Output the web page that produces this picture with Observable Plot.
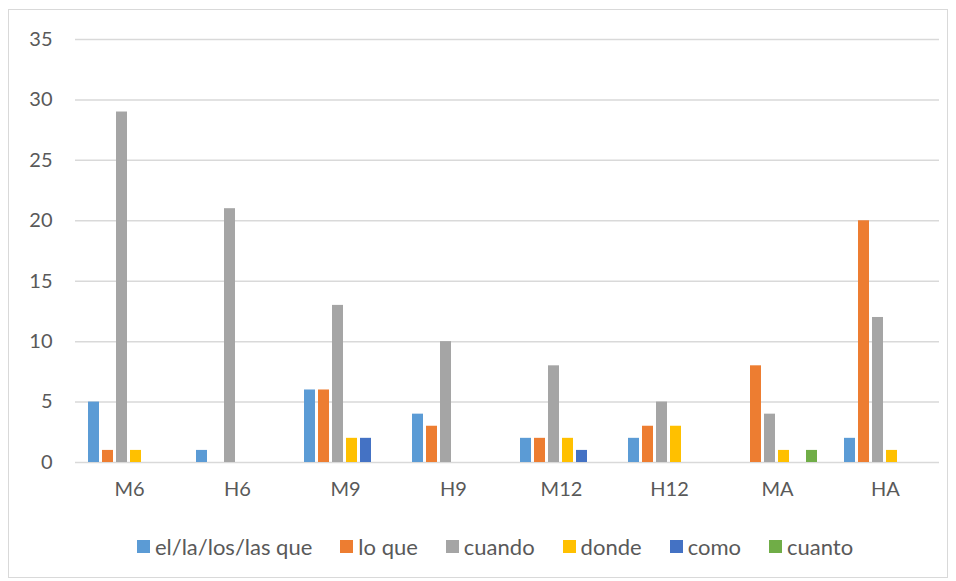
<!DOCTYPE html>
<html><head><meta charset="utf-8">
<script src="https://cdn.jsdelivr.net/npm/d3@7"></script>
<script src="https://cdn.jsdelivr.net/npm/@observablehq/plot@0.6"></script>
<style>
body{margin:0;background:#fff;font-family:Lato,sans-serif;}
#frame{position:absolute;left:8px;top:9px;width:940px;height:569px;border:1px solid #d9d9d9;box-sizing:border-box}
#chart{position:absolute;left:0;top:0}
#legend{position:absolute;top:533px;left:0;width:990px;display:flex;justify-content:center;align-items:center;font-size:22px;color:#595959;font-family:Lato,sans-serif}
#legend .item{display:flex;align-items:center;margin:0 14px}
#legend .sw{width:13px;height:13px;margin-right:5px}
</style></head>
<body>
<div id="frame"></div>
<div id="chart"></div>
<div id="legend"></div>
<script>
const groups = ["M6","H6","M9","H9","M12","H12","MA","HA"];
const series = ["el/la/los/las que","lo que","cuando","donde","como","cuanto"];
const colors = ["#5B9BD5","#ED7D31","#A5A5A5","#FFC000","#4472C4","#70AD47"];
const elLaLosLasQue = [5,1,6,4,2,2,0,2];
const loQue =         [1,0,6,3,2,3,8,20];
const cuando =        [29,21,13,10,8,5,4,12];
const donde =         [1,0,2,0,2,3,1,1];
const como =          [0,0,2,0,1,0,0,0];
const cuanto =        [0,0,0,0,0,0,1,0];
const yTicks = [0,5,10,15,20,25,30,35];

const seriesValues = [elLaLosLasQue, loQue, cuando, donde, como, cuanto];
const data = [];
groups.forEach((g, gi) => {
  series.forEach((s, si) => {
    const v = seriesValues[si][gi];
    if (v > 0) data.push({group: g, series: s, value: v});
  });
});

const chart = Plot.plot({
  width: 956, height: 500,
  marginTop: 39, marginBottom: 38, marginLeft: 73, marginRight: 16,
  fx: {domain: groups, padding: 0, label: null, axis: null},
  x: {domain: series, paddingInner: 0.2, paddingOuter: 0.85, axis: null},
  y: {domain: [0, 35], label: null, axis: null},
  color: {domain: series, range: colors},
  style: {fontFamily: "Lato, sans-serif", fontSize: "20px", color: "#595959", background: "transparent"},
  marks: [
    Plot.gridY(yTicks, {stroke: "#d9d9d9", strokeOpacity: 1, strokeWidth: 1.5}),
    Plot.axisY(yTicks, {tickSize: 0, tickPadding: 23, label: null, fill: "#595959"}),
    Plot.axisFx({anchor: "bottom", tickSize: 0, tickPadding: 19, label: null, fill: "#595959"}),
    Plot.barY(data, {fx: "group", x: "series", y: "value", fill: "series"})
  ]
});
document.getElementById("chart").appendChild(chart);

const legend = document.getElementById("legend");
series.forEach((s, i) => {
  const item = document.createElement("div");
  item.className = "item";
  const sw = document.createElement("span");
  sw.className = "sw";
  sw.style.background = colors[i];
  const t = document.createElement("span");
  t.textContent = s;
  item.appendChild(sw); item.appendChild(t);
  legend.appendChild(item);
});
</script>
</body></html>
